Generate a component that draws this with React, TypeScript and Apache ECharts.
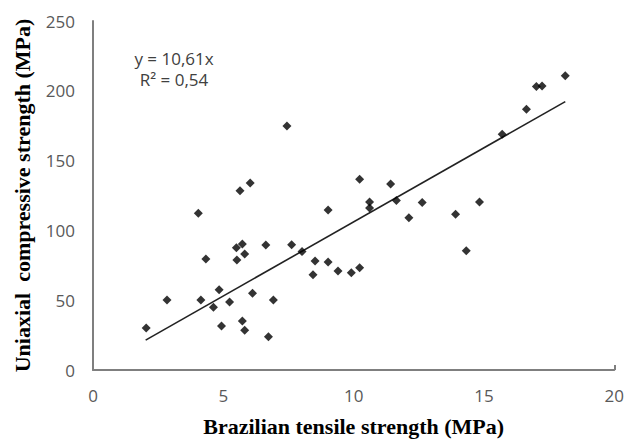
import React, { useEffect, useRef } from "react";
import * as echarts from "echarts";

const tensile: number[] = [
  2.04, 2.84, 4.04, 4.14, 4.33, 4.62, 4.84, 4.93, 5.24, 5.5, 5.52, 5.64, 5.73, 5.73, 5.82, 5.82,
  6.03, 6.12, 6.63, 6.73, 6.92, 7.44, 7.62, 8.02, 8.44, 8.52, 9.02, 9.02, 9.4, 9.91, 10.23, 10.23,
  10.61, 10.61, 11.42, 11.64, 12.12, 12.63, 13.91, 14.32, 14.83, 15.7, 16.63, 17.01, 17.23, 18.12,
];
const compressive: number[] = [
  30.1, 50.1, 112.2, 50.1, 79.5, 44.9, 57.5, 31.5, 48.7, 87.6, 78.8, 128.4, 90.3, 35.1, 83.1, 28.4,
  134, 54.9, 89.5, 23.9, 50.1, 174.8, 89.8, 84.8, 68.3, 78.1, 114.6, 77.4, 70.9, 69.7, 73.3, 136.6,
  120.3, 116, 133.2, 121.5, 109.1, 119.9, 111.5, 85.5, 120.3, 168.8, 186.7, 203, 203.4, 210.8,
];
const trendSlope = 10.61;
const trendRange: number[] = [2.02, 18.12];
const xTicks = { min: 0, max: 20, interval: 5 };
const yTicks = { min: 0, max: 250, interval: 50 };
const equationLines: string[] = ["y = 10,61x", "R² = 0,54"];
const xTitle = "Brazilian tensile strength (MPa)";
const yTitle = "Uniaxial  compressive strength (MPa)";

export default function App() {
  const ref = useRef<HTMLDivElement>(null);
  useEffect(() => {
    if (!ref.current) return;
    const chart = echarts.init(ref.current, null, { renderer: "svg" });
    const points = tensile.map((x, i) => [x, compressive[i]]);
    const trend = trendRange.map((x) => [x, x * trendSlope]);
    const axisFont = { color: "#595959", fontSize: 17, fontFamily: "Open Sans" };
    const titleFont = {
      color: "#000",
      fontSize: 22,
      fontWeight: "bold" as const,
      fontFamily: "Liberation Serif",
    };
    chart.setOption({
      animation: false,
      backgroundColor: "#fff",
      grid: { left: 93, top: 21, right: 12, bottom: 72, containLabel: false },
      xAxis: {
        type: "value",
        min: xTicks.min,
        max: xTicks.max,
        interval: xTicks.interval,
        axisLine: { show: true, onZero: false, lineStyle: { color: "#7f7f7f", width: 2 } },
        axisTick: { show: false },
        splitLine: { show: false },
        axisLabel: { ...axisFont, margin: 17 },
        name: xTitle,
        nameLocation: "middle",
        nameGap: 45,
        nameTextStyle: titleFont,
      },
      yAxis: {
        type: "value",
        min: yTicks.min,
        max: yTicks.max,
        interval: yTicks.interval,
        axisLine: { show: true, onZero: false, lineStyle: { color: "#7f7f7f", width: 2 } },
        axisTick: { show: false },
        splitLine: { show: false },
        axisLabel: { ...axisFont, margin: 18 },
        name: yTitle,
        nameLocation: "middle",
        nameGap: 60,
        nameRotate: 90,
        nameTextStyle: titleFont,
      },
      graphic: [
        {
          type: "text",
          x: 174,
          y: 48,
          style: {
            text: equationLines.join("\n"),
            fill: "#404040",
            fontSize: 17,
            lineHeight: 21,
            fontFamily: "Open Sans",
            align: "center",
            verticalAlign: "top",
          },
        },
      ],
      series: [
        {
          type: "line",
          data: trend,
          symbol: "none",
          lineStyle: { color: "#222", width: 1.6 },
          z: 2,
          markLine: {
            silent: true,
            symbol: "none",
            label: { show: false },
            lineStyle: { color: "#7f7f7f", width: 2, type: "solid" },
            data: [[{ coord: [xTicks.max, 0] }, { coord: [xTicks.max, 3.5] }]],
          },
        },
        {
          type: "scatter",
          data: points,
          symbol: "diamond",
          symbolSize: 9,
          itemStyle: { color: "#000" },
          z: 3,
        },
      ],
    });
    return () => chart.dispose();
  }, []);
  return (
    <div
      ref={ref}
      style={{ position: "absolute", left: 0, top: 0, width: 627, height: 442 }}
    />
  );
}
